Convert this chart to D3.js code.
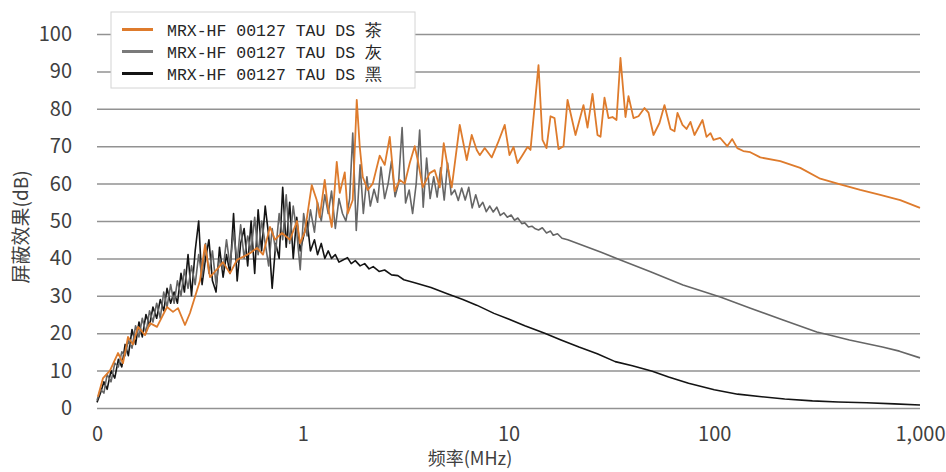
<!DOCTYPE html>
<html><head><meta charset="utf-8">
<script src="https://cdn.jsdelivr.net/npm/d3@7"></script>
<style>
html,body{margin:0;padding:0;background:#fff;}
svg{display:block;}
</style></head><body>
<svg id="chart" width="946" height="472"></svg>
<script>
// ---------- data ----------
const tickValuesX = [0.1, 1, 10, 100, 1000];
const tickLabelsX = ["0", "1", "10", "100", "1,000"];
const tickValuesY = [0, 10, 20, 30, 40, 50, 60, 70, 80, 90, 100];
const xTitle = "频率(MHz)";
const yTitle = "屏蔽效果(dB)";
const seriesNames = ["MRX-HF 00127 TAU DS 茶", "MRX-HF 00127 TAU DS 灰", "MRX-HF 00127 TAU DS 黑"];
const seriesColors = ["#DE7B2C", "#666666", "#141414"];

// [frequency MHz, shielding dB]
const orangeData = [
[0.101,3],[0.107,8],[0.1156,10],[0.1265,14.7],[0.1338,12],[0.1415,19],[0.1496,17],[0.1583,21.7],
[0.1712,19.5],[0.181,22.7],[0.1957,21.7],[0.2189,27],[0.2341,25.7],[0.2476,26.7],[0.2677,22.2],
[0.2831,25.4],[0.3166,34],[0.3349,43.6],[0.3541,35],[0.3873,37.4],[0.4096,39],[0.4429,36],
[0.479,39.6],[0.5123,40.4],[0.5541,41.4],[0.5992,42.8],[0.6408,41],[0.6931,48.4],[0.733,45],
[0.7928,46.8],[0.867,45],[0.9376,50],[0.9696,44],[1.023,47],[1.106,59.6],[1.169,55.6],[1.209,51],
[1.279,61],[1.323,54],[1.384,48.4],[1.463,65.8],[1.513,57.5],[1.600,63],[1.655,52],[1.750,55.6],
[1.830,82.4],[1.893,69.8],[1.957,61.8],[2.070,58.3],[2.189,60],[2.367,67.5],[2.503,65],[2.648,72.5],
[2.800,58],[2.961,61],[3.131,60],[3.312,65.5],[3.501,70],[3.621,66.3],[3.830,59],[4.142,62.8],
[4.380,63.6],[4.632,59],[4.844,70.8],[5.066,64.4],[5.298,59],[5.795,75.7],[6.266,66.3],[6.627,73],
[7.009,69],[7.248,67.6],[7.665,69.5],[8.291,67],[8.867,70.8],[9.588,75.7],[10.11,67.6],[10.58,69.8],
[11.06,65.5],[11.69,67.6],[12.37,69.8],[12.79,69],[13.99,91.7],[14.63,71.7],[15.30,69.5],[16.00,78],
[16.74,77.5],[17.50,69.2],[18.51,70],[19.36,82.4],[21.17,73],[23.15,81],[24.21,75],[25.60,84],
[27.07,73],[28.00,72.5],[29.28,83],[30.62,77.5],[32.02,77.8],[33.49,77],[35.01,93.6],[37.03,77.8],
[38.30,83.4],[40.51,77.5],[42.83,78],[45.81,80.2],[47.90,79],[50.66,73],[54.18,76.2],[57.30,81],
[61.27,74.6],[64.08,74],[66.27,78.9],[70.09,75.7],[73.30,74.6],[76.65,76.5],[80.17,73],[87.68,77],
[91.70,72.5],[95.88,73.5],[99.16,71.7],[106.9,72.2],[115.6,70],[122.3,71.9],[129.4,69.5],[138.4,68.7],
[149.6,68.4],[167.4,67],[209.3,66],[261.8,64.2],[327.5,61.3],[409.6,59.8],[512.3,58.3],[640.8,57],
[801.7,55.6],[1000,53.5]
];

const grayData = [
[0.100,2],[0.104,5],[0.108,4],[0.112,9],[0.117,7],[0.122,12],[0.127,11],[0.132,15],[0.137,14],
[0.142,18],[0.148,16],[0.154,22],[0.160,19],[0.166,24],[0.173,20],[0.180,26],[0.187,23],[0.195,28],
[0.203,24],[0.211,31],[0.219,27],[0.228,33],[0.237,28],[0.246,34],[0.256,30],[0.266,37],[0.277,32],
[0.288,38],[0.300,33],[0.312,41],[0.324,35],[0.337,44],[0.350,36],[0.364,42],[0.379,33],[0.394,40],
[0.410,37],[0.426,45],[0.443,38],[0.461,47],[0.480,39],[0.499,49],[0.519,40],[0.540,46],[0.561,42],
[0.584,51],[0.607,41],[0.631,50],[0.657,44],[0.683,38],[0.710,48],[0.739,42],[0.768,52],[0.799,45],
[0.831,57],[0.864,44],[0.899,54],[0.935,47],[0.972,37],[1.01,52],[1.05,46],[1.09,53],[1.14,47],
[1.18,55],[1.23,50],[1.28,57],[1.33,52],[1.38,58],[1.44,48],[1.50,56],[1.56,52],
[1.62,50],[1.69,56],[1.75,73.5],[1.82,47.5],[1.90,65],[1.97,52],[2.05,61.8],[2.13,54],[2.22,58.5],
[2.31,55],[2.40,64.4],[2.50,56],[2.60,60],[2.70,66],[2.81,56.5],[2.92,60],[3.04,75],[3.16,54.8],
[3.29,58.3],[3.42,52],[3.56,60],[3.70,74.3],[3.85,53.7],[4.00,66.8],[4.16,56],[4.33,61.8],[4.50,56.4],
[4.68,64.2],[4.87,55.6],[5.06,65.5],[5.27,57],[5.48,58.3],[5.70,55.5],[5.92,58.8],[6.16,55.6],
[6.41,59],[6.66,53.5],[6.93,57],[7.21,53.7],[7.50,55],[7.80,52.5],[8.11,54],[8.43,52.4],[8.77,53.7],
[9.12,51.5],[9.49,52.2],[9.87,51],[10.3,51.6],[10.7,50.2],[11.1,50.8],[11.6,49.3],[12.0,49.5],
[12.5,48.4],[13.0,48.6],[13.5,47.9],[14.0,47.6],[14.6,48.2],[15.3,46.8],[16.0,47.3],[16.5,46.2],
[17.3,46.6],[18.2,45.4],[19.4,45],[28,41.7],[35,39.6],[49,36.4],[70.5,32.9],[107,29.7],[150,26.7],
[216,23.5],[315,20.3],[363,19.5],[454,18.2],[657,16.3],[794,15.2],[1000,13.4]
];

const blackData = [
[0.100,1.5],[0.104,4],[0.108,7],[0.112,5],[0.117,10],[0.122,8],[0.127,13],[0.132,11],[0.137,17],
[0.142,14],[0.148,21],[0.154,17],[0.160,23],[0.166,19],[0.173,25],[0.180,22],[0.187,27],[0.195,24],
[0.203,29],[0.211,26],[0.219,32],[0.228,28],[0.237,31],[0.246,28],[0.256,36],[0.266,31],[0.277,41],
[0.288,30],[0.300,42],[0.312,50],[0.324,33],[0.337,40],[0.350,45],[0.364,34],[0.379,31],[0.394,43],
[0.410,35],[0.426,41],[0.443,36],[0.461,52],[0.480,34],[0.499,44],[0.519,48],[0.540,38],[0.561,50],
[0.584,36],[0.607,53],[0.631,42],[0.657,54],[0.683,46],[0.710,32],[0.739,44],[0.768,40],[0.799,59],
[0.831,43],[0.864,55],[0.899,40],[0.935,51],[0.972,42],[1.01,46],[1.05,50],[1.09,42],[1.14,45],
[1.18,41],[1.23,44],[1.28,40],[1.33,42],[1.38,40],[1.44,41],[1.50,39],[1.56,39.5],
[1.65,40.2],[1.72,38.6],[1.80,39.4],[1.90,38],[2.00,38.6],[2.10,37.2],[2.20,37.8],[2.35,36.5],
[2.50,36.9],[2.70,35.6],[2.90,35.4],[3.10,34.3],[3.50,33.5],[4.20,32.2],[5.0,30.6],[6.0,29],
[7.0,27.5],[8.5,25.3],[10,23.8],[12,22],[15,20],[18,18.2],[22,16.3],[27,14.5],[33,12.4],[40,11.3],
[50,9.8],[60,8.3],[75,6.6],[100,4.9],[130,3.7],[170,3.0],[220,2.4],[300,1.9],[400,1.6],[550,1.4],
[750,1.1],[1000,0.8]
];

// ---------- drawing ----------
const svg = d3.select("#chart");
const plotLeft = 97, plotRight = 920, plotTop = 34, plotBottom = 408;
const x = d3.scaleLog().domain([0.1, 1000]).range([plotLeft, plotRight]);
const y = d3.scaleLinear().domain([0, 100]).range([plotBottom, plotTop]);
const labelFont = "'Noto Sans CJK SC', 'Noto Sans', sans-serif";

const gy = svg.append("g").attr("transform", `translate(${plotLeft},0)`)
  .call(d3.axisLeft(y).tickValues(tickValuesY).tickSize(-(plotRight - plotLeft)).tickPadding(25).tickFormat(d3.format("d")));
gy.attr("font-family", labelFont).attr("font-size", 20);
gy.select(".domain").remove();
gy.selectAll(".tick line").attr("stroke", "#929292").attr("stroke-width", 1.5);
gy.selectAll(".tick text").attr("fill", "#404040");

const gx = svg.append("g").attr("transform", `translate(0,${plotBottom})`)
  .call(d3.axisBottom(x).tickValues(tickValuesX).tickSize(0).tickPadding(19)
    .tickFormat((d, i) => tickLabelsX[i]));
gx.attr("font-family", labelFont).attr("font-size", 20);
gx.select(".domain").remove();
gx.selectAll(".tick text").attr("fill", "#404040");

const line = d3.line().x(d => x(d[0])).y(d => y(d[1]));
const seriesData = [orangeData, grayData, blackData];
const drawOrder = [2, 1, 0];
drawOrder.forEach(i => {
  svg.append("path").datum(seriesData[i])
    .attr("fill", "none").attr("stroke", seriesColors[i])
    .attr("stroke-width", i === 0 ? 1.8 : 1.6)
    .attr("stroke-linejoin", "round")
    .attr("d", line);
});

// axis titles
svg.append("text").attr("x", 470).attr("y", 465).attr("text-anchor", "middle")
  .attr("font-family", labelFont).attr("font-size", 18).attr("fill", "#404040").text(xTitle);
svg.append("text").attr("transform", "translate(28,227) rotate(-90)").attr("text-anchor", "middle")
  .attr("font-family", labelFont).attr("font-size", 19).attr("fill", "#404040").text(yTitle);

// legend
const lg = svg.append("g");
lg.append("rect").attr("x", 111).attr("y", 12).attr("width", 304).attr("height", 76)
  .attr("fill", "#fff").attr("stroke", "#d4d4d4").attr("stroke-width", 1);
seriesNames.forEach((name, i) => {
  const cy = 29.5 + i * 22;
  lg.append("line").attr("x1", 122).attr("x2", 153).attr("y1", cy).attr("y2", cy)
    .attr("stroke", i === 1 ? "#7a7a7a" : seriesColors[i]).attr("stroke-width", 3);
  lg.append("text").attr("x", 167).attr("y", cy + 6)
    .attr("font-family", "'Liberation Mono', 'DejaVu Sans Mono', monospace")
    .attr("font-size", 16.5).attr("fill", "#262626").text(name);
});
</script>
</body></html>
